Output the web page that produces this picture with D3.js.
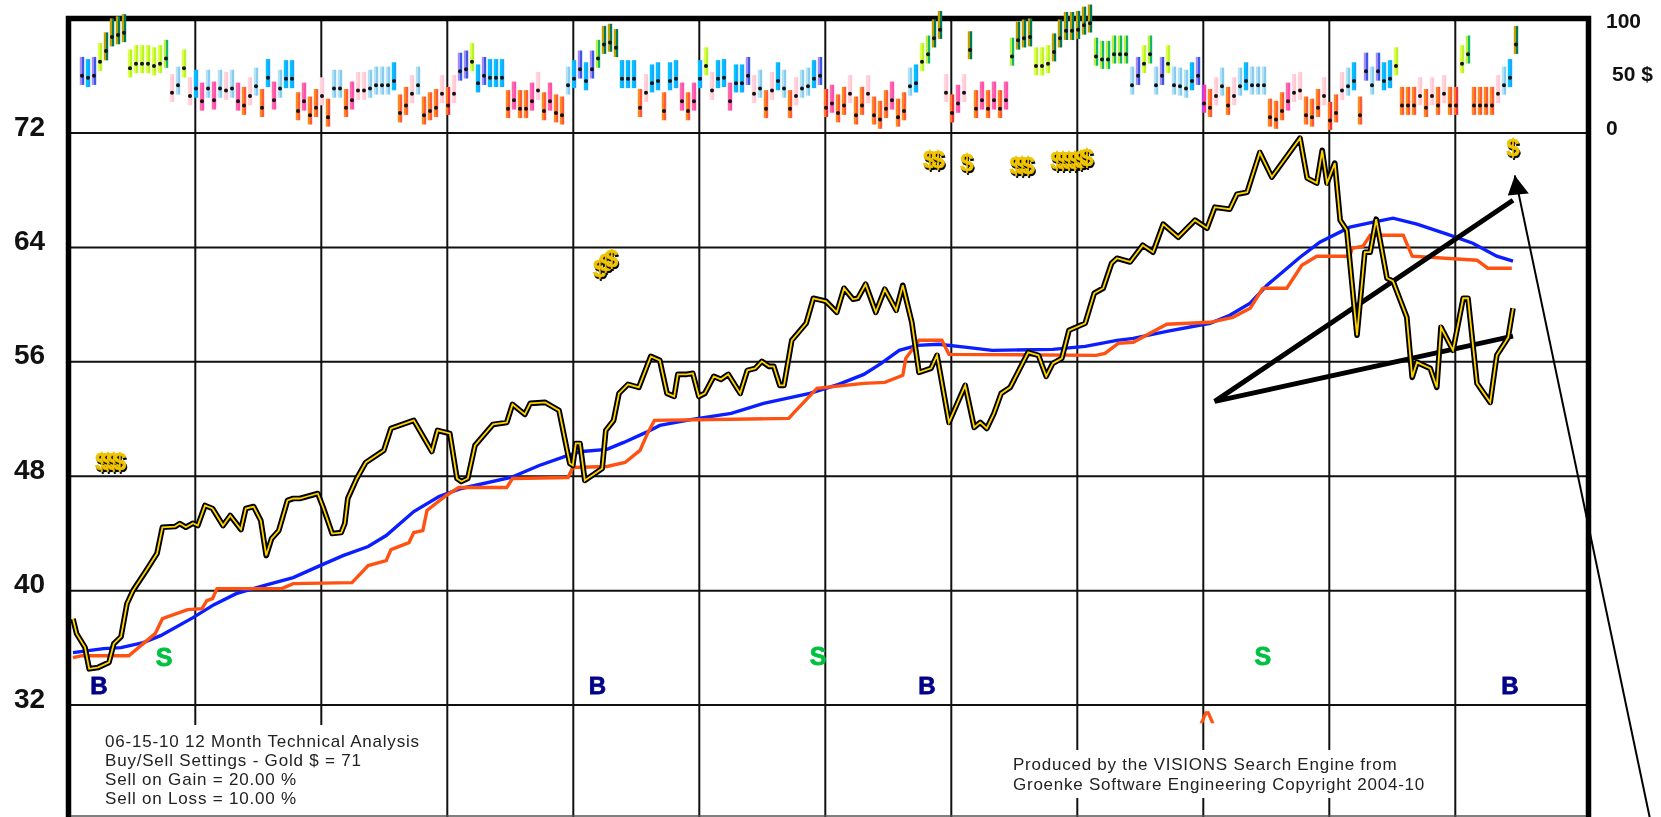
<!DOCTYPE html>
<html><head><meta charset="utf-8">
<script src="https://cdn.jsdelivr.net/npm/d3@7"></script>
<style>
html,body{margin:0;padding:0;background:#fff;overflow:hidden}
svg{display:block;filter:blur(0.45px)}
text{font-family:"Liberation Sans",Arial,sans-serif}
.dollar{filter:drop-shadow(1px 2px 0 #000)}
</style></head><body>
<svg id="c" width="1661" height="817"></svg>
<script>
// ---- data ----
const priceTicks = [72,64,56,48,40,32];
const scoreTicks = ["100","50 $","0"];
const scoreTickValues = [100,50,0];
const monthGridDays = [18.8,39.8,60.8,81.8,102.8,123.8,144.8,165.8,186.8,207.8,228.8];

const barScores = [
48,46,48,61,71,84,86,88,55,59,59,59,57,59,64,32,39,55,29,36,24,36,25,36,34,36,24,20,29,38,18,46,25,36,45,45,
15,24,11,18,29,9,36,36,18,25,34,34,36,39,39,39,43,13,20,31,39,11,15,18,31,20,31,52,54,61,41,48,46,46,46,
17,25,17,17,24,34,15,24,13,11,39,45,54,43,54,64,77,
79,74,45,45,45,18,32,41,43,15,43,45,24,15,24,45,57,34,45,46,24,41,41,48,31,36,17,34,43,36,17,29,36,38,45,48,
18,22,13,20,31,11,20,31,11,7,17,25,9,15,38,41,61,68,83,91,32,13,22,32,72,17,25,17,25,17,25,66,81,83,84,
57,57,59,70,83,90,90,91,95,97,66,63,63,68,68,68,39,48,59,68,39,
48,59,39,38,36,43,48,22,18,29,38,20,29,38,43,39,39,39,9,7,15,24,32,34,11,9,18,29,6,13,34,38,43,11,
52,39,52,43,45,57,20,20,20,29,18,29,20,31,20,20,59,68,20,20,20,20,31,39,46,77];
const barTones = (
"vsvyddddyyyyyyg"+"plyps"+"hlhlpl"+"hoplos"+"hlss"+"ohoopo"+"llohpplllls"+"ooploooprp"+
"vvysvsss"+"ohoohpohoo"+"lsvsvgd"+"ddsss"+"opssoss"+"hohsypsshssv"+"plopslopllsv"+"rhoopoopooohoo"+"lsygdd"+"prhpd"+
"ohohoh"+"gddd"+"yyyddddddd"+"gggggg"+"lvygl"+"vylllsv"+"moplopl"+"slll"+"ooohpp"+"ooopropl"+"so"+
"vlvssy"+"ooopopopor"+"yg"+"oooopl"+"sd").split("");
const toneColors = {
 p:["#ffd6dc","#ffc8d4"], h:["#ff6aa8","#ff4fb0"], o:["#ff8a1c","#ff5a3c"], r:["#ff7a20","#f0303c"],
 s:["#00c4ff","#18a8ff"], l:["#b4e2f2","#86ccf0"], v:["#a48cf4","#3858e8"], y:["#dcff48","#b8f428"],
 g:["#b8f040","#10b868"], d:["#c0a000","#00785a"], m:["#c040e0","#ff34a0"]
};

const goldDays = [-1.5,-.9,.5,1.2,2.7,4.5,5.3,6.5,7.5,8.5,10.7,12.5,13.4,15.5,16.3,17.3,18.5,19.3,20.5,21.75,23.5,24.7,26.5,27.3,28.6,29.8,30.7,31.6,32.8,34.25,35.2,36.3,37.5,39.3,40.2,41.7,43.2,43.8,44.3,45.8,47.3,50.3,51.5,55.3,58.3,59.25,61.3,62.5,63.2,64.3,65.5,68.5,70.8,71.75,73.8,74.7,77.2,79.5,81.3,81.8,82.3,83,83.8,86.7,87.3,88.6,89.5,91,92.8,94.8,96.3,97.5,98.7,99.3,100.8,101.8,102.8,103.8,105.3,106.5,107.7,109.7,110.9,112.2,113.3,114.5,115.3,116.3,117,118.3,120.7,121.9,124,125.8,127,128.5,129.3,130.6,132.3,133.8,135.7,136.8,138.3,139.5,141.5,142.5,144.5,147.2,148.7,149.7,150.8,152,153.2,154.7,157.7,159.4,160.7,161.8,163.3,164.5,167.2,168.7,170.2,171.6,172.5,174.7,176.8,178.5,180.2,182.7,185.5,187.5,188.8,191.3,192.5,194.2,196.3,198.3,203,204.2,205.8,206.7,207.5,208.8,209.7,210.8,212.5,213.8,214.7,215.7,217.5,218.5,220.8,221.7,222.5,224.7,225.8,226.5,228.5,230.2,231,232.5,234.7,235.8,237.2,237.7,238.5];
const goldPrices = [38,36.96,36,34.5,34.6,34.95,36.26,36.75,39.06,39.97,41.37,42.56,44.4,44.45,44.66,44.4,44.68,44.52,45.92,45.71,44.52,45.22,44.24,45.71,45.85,44.87,42.42,43.61,44.17,46.27,46.41,46.41,46.55,46.76,45.78,43.96,44.03,44.66,46.41,47.81,48.93,49.77,51.31,51.87,49.7,51.17,50.96,47.81,47.6,47.81,50.12,51.59,51.73,52.99,52.29,53.06,53.13,52.57,48.86,48.72,50.26,50.26,47.67,48.51,51.17,51.87,53.76,54.39,54.18,56.35,56.07,53.76,53.55,55.09,55.09,55.16,53.55,53.76,54.95,54.74,55.09,53.76,55.37,55.51,56,55.65,55.65,54.32,54.32,57.47,58.66,60.41,60.2,59.43,61.11,60.34,60.41,61.39,59.43,61.04,59.57,61.32,58.73,55.23,55.51,56.42,51.73,54.32,51.38,51.73,51.31,52.36,53.76,54.18,56.63,56.42,54.95,55.86,56.21,58.17,58.66,60.76,61.11,62.86,63.21,62.95,64.12,63.63,65.59,64.68,65.87,65.31,66.78,66.64,67.69,67.83,70.6,68.88,71.6,68.81,68.46,70.75,68.46,69.86,65.87,65.17,57.82,63.63,63.63,65.94,61.81,61.6,59.08,54.88,55.93,55.51,54.18,58.38,56.77,60.41,60.41,54.46,53.13,56.42,57.33,57.68,59.71];

const blueDays = [-1.5,3.6,6.5,10.2,13.1,18.5,22,25.7,30.3,35.2,39.3,43.5,47.7,50.7,55.3,59.5,63.2,71.5,76.2,81,83.3,87.5,90.3,94,96.3,101.7,108.2,113.6,121.3,126.1,130.3,133.2,136.2,139.2,142.8,147.5,151.7,161.8,167.2,172.5,175.2,180.8,188,191.3,194.7,197.5,203,206.3,211.3,215.2,218.5,222.5,227.5,231.8,235.8,238.5];
const bluePrices = [35.63,35.91,35.98,36.33,36.82,38.08,38.99,39.76,40.32,40.88,41.65,42.42,43.05,43.82,45.5,46.55,47.11,47.88,48.72,49.42,49.7,49.84,50.33,51.03,51.52,51.94,52.36,53.06,53.76,54.39,55.09,55.86,56.77,57.12,57.19,56.98,56.77,56.84,57.05,57.47,57.61,58.1,58.66,59.22,60.06,61.32,63.28,64.33,65.38,65.73,66.01,65.59,64.89,64.26,63.35,63];

const orangeDays = [-1.5,0,7.8,10.2,12.2,13.4,17.6,20,20.8,21.75,22.5,33.3,35.2,45,47.7,50.7,51.5,54.5,55.3,56.8,57.5,60.7,62.8,70.8,71.75,81,81.8,87.5,90.5,93,94.25,95.4,117.8,118.7,122.5,130.3,133.8,136.8,137.3,139.5,143.3,144.5,169,170.5,172.7,175.2,180.8,188,191.8,194.7,196.8,200.8,203.3,205.8,211.3,211.7,213.5,214.7,220.2,221.7,232.5,234.3,238.3];
const orangePrices = [35.28,35.42,35.42,36.26,36.96,38.01,38.64,38.71,39.27,39.41,40.11,40.11,40.46,40.53,41.72,42.07,42.84,43.33,44.03,44.17,45.57,46.62,47.18,47.18,47.81,47.88,48.58,48.65,48.93,49.77,50.96,51.87,52.01,52.43,54.11,54.46,54.53,55.02,56.21,57.47,57.47,56.49,56.42,56.56,57.26,57.33,58.59,58.73,59.08,59.71,61.11,61.11,62.72,63.35,63.35,63.91,64.05,64.82,64.82,63.35,63.07,62.51,62.51];

const wedgeDays = [238.5,188.8,238.5];
const wedgePrices = [67.26,53.2,57.76];
const arrowDays = [238.8,261.3];
const arrowPrices = [69,24.08];

const dollarDays = [3.3,4.3,5.3,6.3,86.3,87.3,88.3,141.3,142.7,147.5,155.7,156.7,157.7,162.5,163.5,164.5,165.5,166.5,167.5,238.5];
const dollarPrices = [49,49,49,49,62.5,62.86,63.2,70.07,70.07,69.9,69.7,69.7,69.7,70,70,70,70,70.1,70.2,70.9];
const sellDays = [13.7,122.7,196.8];
const sellPrices = [35.35,35.4,35.4];
const buyDays = [2.8,85.9,140.8,238];
const buyPrices = [33.32,33.32,33.32,33.32];
const caretDays = [187.5];
const caretPrices = [31.6];
const leftNote = ["06-15-10 12 Month Technical Analysis","Buy/Sell Settings - Gold $ = 71","Sell on Gain = 20.00 %","Sell on Loss = 10.00 %"];
const rightNote = ["Produced by the VISIONS Search Engine from","Groenke Software Engineering Copyright 2004-10"];

// ---- scales ----
const svg = d3.select("#c");
const x = d3.scaleLinear().domain([0,239]).range([82,1516]);
const y = d3.scaleLinear().domain([32,72]).range([704.6,132.5]);
const ys = d3.scaleLinear().domain([0,100]).range([127,20]);
const frameL=71, frameR=1586, frameT=19;

// ---- grid ----
const gridV = d3.axisTop(x).tickValues(monthGridDays).tickSize(-(817-frameT)).tickFormat("");
const gv = svg.append("g").attr("transform",`translate(0,${frameT})`).call(gridV);
gv.select(".domain").remove();
gv.selectAll("line").attr("stroke","#111").attr("stroke-width",2);
const gridH = d3.axisLeft(y).tickValues(priceTicks).tickSize(-(frameR-frameL)).tickFormat("");
const gh = svg.append("g").attr("transform",`translate(${frameL},0)`).call(gridH);
gh.select(".domain").remove();
gh.selectAll("line").attr("stroke","#111").attr("stroke-width",2);

// ---- note backgrounds ----
svg.append("rect").attr("x",100).attr("y",725).attr("width",330).attr("height",92).attr("fill","#fff");
svg.append("rect").attr("x",1010).attr("y",750).attr("width",416).attr("height",48).attr("fill","#fff");

// ---- frame ----
svg.append("path").attr("d",`M${frameL-2.5},817V${frameT-0.5}H${frameR+2.5}V817`).attr("fill","none").attr("stroke","#000").attr("stroke-width",5.5);
svg.append("line").attr("x1",frameL).attr("x2",frameR).attr("y1",816).attr("y2",816).attr("stroke","#555").attr("stroke-width",1.5);

// ---- lines ----
const line = d3.line().x(d=>x(d[0])).y(d=>y(d[1]));
svg.append("path").datum(d3.zip(blueDays,bluePrices)).attr("d",line).attr("fill","none").attr("stroke","#0a1eff").attr("stroke-width",3.4);
svg.append("path").datum(d3.zip(orangeDays,orangePrices)).attr("d",line).attr("fill","none").attr("stroke","#ff5212").attr("stroke-width",3.4);
svg.append("path").datum(d3.zip(wedgeDays,wedgePrices)).attr("d",line).attr("fill","none").attr("stroke","#000").attr("stroke-width",5);
const goldData = d3.zip(goldDays,goldPrices);
svg.append("path").datum(goldData).attr("d",line).attr("fill","none").attr("stroke","#000").attr("stroke-width",5.6).attr("stroke-linejoin","round");
svg.append("path").datum(goldData).attr("d",line).attr("fill","none").attr("stroke","#ffd400").attr("stroke-width",1.8);

// ---- arrow ----
const tipX=x(arrowDays[0]), tipY=y(arrowPrices[0]);
svg.append("line").attr("x1",tipX).attr("y1",tipY).attr("x2",x(arrowDays[1])).attr("y2",y(arrowPrices[1])).attr("stroke","#000").attr("stroke-width",2);
svg.append("path").attr("d",`M${tipX},${tipY}l-7,20l21,-2z`).attr("fill","#000");

// ---- score bars ----
const bars = svg.append("g").selectAll("g").data(barScores).join("g");
[0,1].forEach(side=>{
  bars.append("rect")
    .attr("x",(d,i)=>x(i)-2.2+side*2.2).attr("width",2.2)
    .attr("y",d=>ys(d)-18.7).attr("height",28)
    .attr("fill",(d,i)=>toneColors[barTones[i]][side]);
});
bars.append("circle").attr("cx",(d,i)=>x(i)).attr("cy",d=>ys(d)).attr("r",2).attr("fill","#111");

// ---- signals ----
svg.append("g").selectAll("text").data(d3.zip(dollarDays,dollarPrices)).join("text")
  .attr("class","dollar").attr("x",d=>x(d[0])).attr("y",d=>y(d[1])).attr("dy","0.34em")
  .attr("text-anchor","middle").attr("font-size",24).attr("font-weight",700)
  .attr("fill","#f0c400").attr("stroke","#f0c400").attr("stroke-width",.5).text("$");
svg.append("g").selectAll("text").data(d3.zip(sellDays,sellPrices)).join("text")
  .attr("x",d=>x(d[0])).attr("y",d=>y(d[1])).attr("dy","0.36em").attr("text-anchor","middle")
  .attr("font-size",25).attr("font-weight",700).attr("fill","#00c040").attr("stroke","#00c040").attr("stroke-width",.8).text("S");
svg.append("g").selectAll("text").data(d3.zip(buyDays,buyPrices)).join("text")
  .attr("x",d=>x(d[0])).attr("y",d=>y(d[1])).attr("dy","0.36em").attr("text-anchor","middle")
  .attr("font-size",24).attr("font-weight",700).attr("fill","#000088").attr("stroke","#000088").attr("stroke-width",.8).text("B");
svg.append("g").selectAll("text").data(d3.zip(caretDays,caretPrices)).join("text")
  .attr("x",d=>x(d[0])).attr("y",d=>y(d[1])).attr("dy","0.75em").attr("text-anchor","middle")
  .attr("font-size",26).attr("font-weight",700).attr("fill","#ff5212").attr("stroke","#ff5212").attr("stroke-width",.6).text("^");

// ---- axis labels ----
svg.append("g").selectAll("text").data(priceTicks).join("text")
  .attr("x",14).attr("y",d=>y(d)-7).attr("dy","0.36em").attr("font-size",28).attr("font-weight",700).attr("fill","#111").text(d=>d);
svg.append("g").selectAll("text").data(scoreTickValues).join("text")
  .attr("x",(d,i)=>i===1?1612:1606).attr("y",d=>ys(d)).attr("dy","0.36em").attr("font-size",21).attr("font-weight",700).attr("fill","#111").text((d,i)=>scoreTicks[i]);

// ---- notes ----
svg.append("g").selectAll("text").data(leftNote).join("text")
  .attr("x",105).attr("y",(d,i)=>747+i*18.9).attr("font-size",17).attr("letter-spacing",.8).attr("fill","#222").text(d=>d);
svg.append("g").selectAll("text").data(rightNote).join("text")
  .attr("x",1013).attr("y",(d,i)=>770+i*19.5).attr("font-size",17).attr("letter-spacing",.76).attr("fill","#222").text(d=>d);
</script></body></html>
